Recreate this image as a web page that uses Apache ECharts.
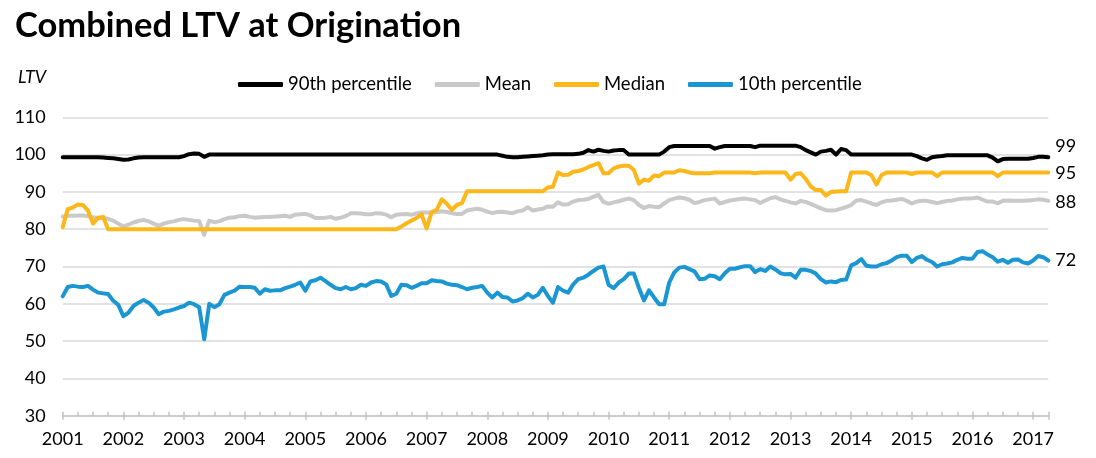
<!DOCTYPE html>
<html>
<head>
<meta charset="utf-8">
<script src="https://cdn.jsdelivr.net/npm/echarts@6/dist/echarts.min.js"></script>
<style>
html,body{margin:0;padding:0;background:#fff;}
#chart{width:1096px;height:458px;}
</style>
</head>
<body>
<div id="chart"></div>
<script>
// Monthly series, Jan 2001 .. Apr 2017
const startYear = 2001;
const seriesNames = ['90th percentile', 'Mean', 'Median', '10th percentile'];
const yearTicks = [2001,2002,2003,2004,2005,2006,2007,2008,2009,2010,2011,2012,2013,2014,2015,2016,2017];
const yTicks = [30,40,50,60,70,80,90,100,110];

const p90 = [
 99.3,99.3,99.3,99.3,99.3,99.3,99.3,99.3,99.2,99.1,99.0,98.8,
 98.6,98.7,99.0,99.2,99.3,99.3,99.3,99.3,99.3,99.3,99.3,99.3,
 99.6,100.1,100.3,100.2,99.4,100.0,100,100,100,100,100,100,
 100,100,100,100,100,100,100,100,100,100,100,100,
 100,100,100,100,100,100,100,100,100,100,100,100,
 100,100,100,100,100,100,100,100,100,100,100,100,
 100,100,100,100,100,100,100,100,100,100,100,100,
 100,100,100,99.7,99.4,99.3,99.3,99.4,99.5,99.6,99.7,99.8,
 100,100.1,100.1,100.1,100.1,100.1,100.2,100.5,101.2,100.8,101.3,101.0,
 100.8,101.1,101.2,101.2,100.0,100,100,100,100,100,100,100.8,
 102.0,102.3,102.3,102.3,102.3,102.3,102.3,102.3,102.3,101.6,102.0,102.3,
 102.3,102.3,102.3,102.3,102.3,102.0,102.4,102.4,102.4,102.4,102.4,102.4,
 102.4,102.4,102.0,101.2,100.6,100.0,100.8,101.0,101.3,100.0,101.5,101.2,
 100,100,100,100,100,100,100,100,100,100,100,100,
 100.0,99.6,99.0,98.6,99.3,99.5,99.6,99.8,99.8,99.8,99.8,99.8,
 99.8,99.8,99.8,99.8,99.2,98.2,98.8,98.9,98.9,98.9,98.9,98.9,
 99.1,99.4,99.4,99.3
];

const mean = [
 83.4,83.6,83.6,83.7,83.7,83.5,83.2,83.1,83.0,82.8,82.3,81.5,
 80.7,81.2,81.8,82.2,82.5,82.1,81.5,80.9,81.5,81.9,82.1,82.5,
 82.7,82.5,82.3,82.2,78.5,82.3,81.9,82.1,82.7,83.1,83.2,83.5,
 83.6,83.3,83.1,83.2,83.3,83.3,83.4,83.5,83.6,83.3,83.9,84.0,
 84.1,83.7,83.0,83.0,83.1,83.3,82.8,83.1,83.5,84.3,84.3,84.2,
 84.0,84.0,84.3,84.2,83.9,83.2,83.9,84.0,84.1,83.9,84.2,84.5,
 84.5,84.5,84.6,84.8,84.6,84.3,84.1,84.1,85.0,85.3,85.5,85.2,
 84.7,84.3,84.6,84.7,84.5,84.3,84.8,85.0,85.9,85.0,85.3,85.5,
 86.1,86.0,87.2,86.6,86.7,87.4,87.8,87.9,88.1,88.7,89.2,87.3,
 86.8,87.2,87.5,87.9,88.2,87.8,86.5,85.7,86.2,86.0,85.9,86.9,
 87.8,88.2,88.5,88.3,87.9,87.0,87.3,87.8,88.0,88.2,86.9,87.3,
 87.7,87.9,88.1,88.2,88.0,87.8,87.0,87.7,88.3,88.6,88.0,87.6,
 87.2,86.9,87.6,87.3,86.8,86.2,85.6,85.1,85.0,85.1,85.5,85.9,
 86.5,87.7,87.8,87.4,86.9,86.5,87.2,87.6,87.7,87.9,88.1,87.6,
 86.9,87.4,87.6,87.6,87.3,87.0,87.3,87.6,87.7,88.0,88.2,88.2,
 88.3,88.5,87.9,87.4,87.4,87.0,87.6,87.7,87.6,87.6,87.6,87.7,
 87.8,88.0,87.9,87.6
];

const median = [
 80.5,85.4,85.8,86.6,86.5,85.0,81.5,83.0,83.3,80.0,80,80,
 80,80,80,80,80,80,80,80,80,80,80,80,
 80,80,80,80,80,80,80,80,80,80,80,80,
 80,80,80,80,80,80,80,80,80,80,80,80,
 80,80,80,80,80,80,80,80,80,80,80,80,
 80,80,80,80,80,80,80,80.7,81.6,82.3,83.0,84.0,
 80.2,84.6,85.2,88.0,86.8,85.2,86.5,87.0,90.2,90.2,90.2,90.2,
 90.2,90.2,90.2,90.2,90.2,90.2,90.2,90.2,90.2,90.2,90.2,90.2,
 91.2,91.4,95.2,94.5,94.6,95.4,95.6,96.0,96.7,97.2,97.7,95.0,
 95.0,96.3,96.8,97.0,97.0,95.9,92.2,93.3,93.0,94.4,94.2,95.2,
 95.2,95.2,95.8,95.6,95.2,95.0,95.0,95.0,95.0,95.2,95.2,95.2,
 95.2,95.2,95.2,95.2,95.2,95.0,95.2,95.2,95.2,95.2,95.2,95.2,
 93.3,94.8,95.0,93.5,91.5,90.5,90.5,89.0,90.0,90.1,90.2,90.2,
 95.2,95.2,95.2,95.2,94.5,92.0,94.5,95.2,95.2,95.2,95.2,95.2,
 94.8,95.2,95.2,95.2,95.2,94.2,95.2,95.2,95.2,95.2,95.2,95.2,
 95.2,95.2,95.2,95.2,95.2,94.2,95.2,95.2,95.2,95.2,95.2,95.2,
 95.2,95.2,95.2,95.2
];

const p10 = [
 62.0,64.5,64.8,64.6,64.5,64.8,63.8,63.0,62.8,62.6,60.8,59.7,
 56.7,57.6,59.4,60.3,61.0,60.3,59.0,57.2,57.9,58.1,58.5,59.0,
 59.4,60.3,59.9,59.1,50.5,60.0,59.1,59.9,62.4,63.0,63.5,64.6,
 64.5,64.5,64.3,62.7,63.9,63.5,63.6,63.6,64.2,64.6,65.1,65.7,
 63.5,66.0,66.3,67.0,66.1,65.1,64.2,63.9,64.5,63.9,64.2,65.1,
 64.8,65.7,66.1,66.0,65.2,62.1,62.7,65.1,65.0,64.3,64.8,65.5,
 65.5,66.3,66.1,66.0,65.4,65.1,65.0,64.5,63.9,64.3,64.5,64.8,
 63.0,61.7,63.0,61.8,61.7,60.6,60.9,61.5,62.7,61.7,62.4,64.3,
 62.1,60.3,64.5,63.5,63.0,65.2,66.6,67.0,67.8,68.8,69.7,70.0,
 65.1,64.2,65.7,66.6,68.1,68.1,64.3,60.9,63.6,61.7,59.9,59.9,
 65.7,68.4,69.7,69.9,69.3,68.7,66.6,66.7,67.6,67.4,66.6,68.2,
 69.4,69.4,69.8,70.1,70.1,68.5,69.3,68.8,70.0,69.2,68.2,67.9,
 68.0,67.0,69.1,69.1,68.8,68.1,66.6,65.7,66.0,65.8,66.4,66.5,
 70.3,70.9,72.0,70.2,70.0,70.0,70.6,70.9,71.6,72.5,72.9,72.9,
 71.2,72.3,72.8,71.8,71.2,70.0,70.6,70.8,71.1,71.8,72.3,72.1,
 72.1,73.9,74.1,73.2,72.5,71.3,71.8,71.0,71.8,71.9,71.1,70.8,
 71.6,72.8,72.5,71.6
];

const colors = ['#000000', '#c9c9c9', '#fcb71a', '#1a96d3'];
const FONT = 'Lato, "Noto Sans", sans-serif';

function toPairs(arr) {
  return arr.map((v, i) => [startYear + i / 12, v]);
}

const chart = echarts.init(document.getElementById('chart'), null, {renderer: 'canvas'});

const valuesList = [p90, mean, median, p10];
const labelOffsets = [[0, -11], [0, 1], [0, 1], [0, 0]];

const series = seriesNames.map((name, i) => ({
  name: name,
  type: 'line',
  data: toPairs(valuesList[i]),
  showSymbol: false,
  symbol: 'none',
  smooth: false,
  lineStyle: {color: colors[i], width: 4, join: 'round', cap: 'round'},
  itemStyle: {color: colors[i]},
  emphasis: {disabled: true},
  animation: false,
  endLabel: {
    show: true,
    formatter: p => String(Math.round(p.value[1])),
    color: '#000',
    fontSize: 18,
    fontFamily: FONT,
    distance: 7,
    offset: labelOffsets[i]
  }
}));

const option = {
  animation: false,
  title: {
    text: 'Combined LTV at Origination',
    left: 10,
    top: 3,
    textStyle: {fontFamily: FONT, fontSize: 34.5, fontWeight: 'bold', color: '#000'}
  },
  graphic: [{
    type: 'text',
    left: 18,
    top: 68,
    style: {text: 'LTV', font: 'italic 18px ' + FONT, fill: '#000'}
  }],
  legend: {
    data: seriesNames,
    left: 233,
    top: 70,
    icon: 'roundRect',
    itemWidth: 45,
    itemHeight: 5,
    itemGap: 23,
    textStyle: {fontFamily: FONT, fontSize: 18.5, color: '#000'},
    selectedMode: false
  },
  grid: {left: 62.7, right: 47.7, top: 117.3, bottom: 42.3, containLabel: false},
  xAxis: [{
    type: 'value',
    min: 2001,
    max: 2017.25,
    interval: 1,
    axisLine: {show: true, lineStyle: {color: '#c4c4c4', width: 1.5}},
    axisTick: {show: true, inside: true, length: 4, lineStyle: {color: '#c4c4c4', width: 1.5}},
    minorTick: {show: true, splitNumber: 4, length: 4, lineStyle: {color: '#c4c4c4', width: 1.5}},
    splitLine: {show: false},
    axisLabel: {
      fontFamily: FONT, fontSize: 18, color: '#000', margin: 14,
      showMaxLabel: false,
      formatter: v => (yearTicks.indexOf(Math.round(v)) >= 0 && Math.abs(v - Math.round(v)) < 1e-6) ? String(Math.round(v)) : ''
    }
  }, {
    type: 'value',
    position: 'bottom',
    min: 2001,
    max: 2017.25,
    interval: 1,
    axisLine: {show: false},
    axisTick: {show: true, inside: false, length: 4, lineStyle: {color: '#c4c4c4', width: 1.5}},
    axisLabel: {show: false},
    splitLine: {show: false}
  }],
  yAxis: {
    type: 'value',
    min: 30,
    max: 110,
    interval: 10,
    axisLine: {show: false},
    axisTick: {show: false},
    splitLine: {show: true, lineStyle: {color: '#d9d9d9', width: 1.5}},
    axisLabel: {fontFamily: FONT, fontSize: 18, color: '#000', margin: 17,
      formatter: v => (yTicks.indexOf(v) >= 0 ? String(v) : '')}
  },
  series: series
};

chart.setOption(option);
</script>
</body>
</html>
